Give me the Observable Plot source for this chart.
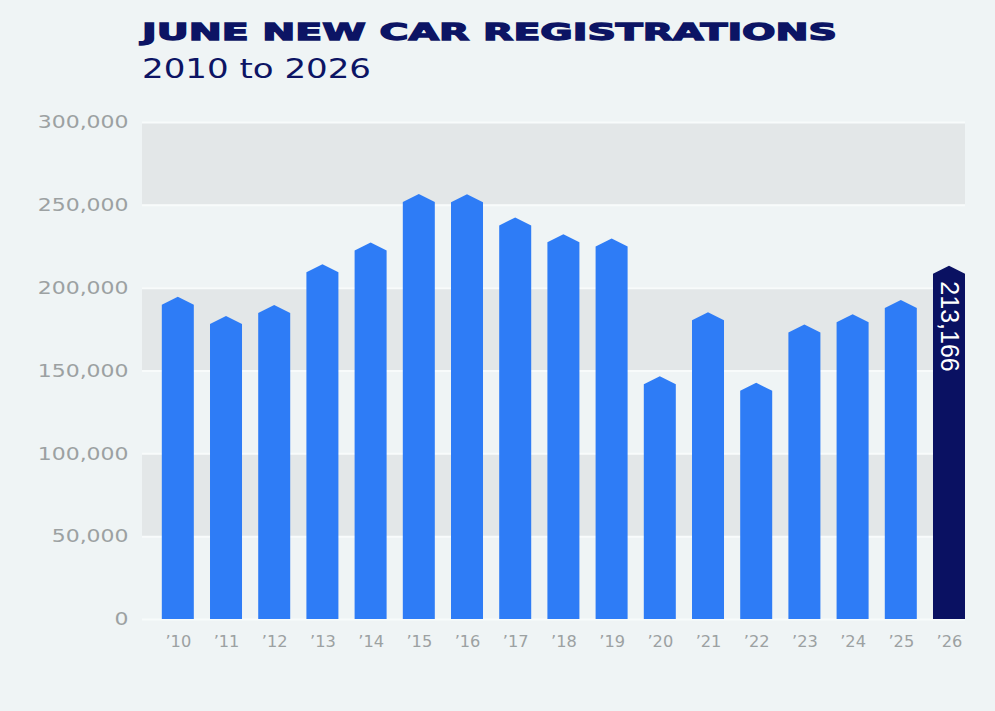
<!DOCTYPE html>
<html><head><meta charset="utf-8">
<script src="https://cdn.jsdelivr.net/npm/d3@7"></script>
<script src="https://cdn.jsdelivr.net/npm/@observablehq/plot@0.6"></script>
<style>
html,body{margin:0;padding:0;background:#eff4f5;}
#wrap{position:relative;width:995px;height:711px;overflow:hidden;background:#eff4f5;}
.t{position:absolute;left:142px;white-space:nowrap;transform-origin:0 0;color:#0c1464;line-height:1;display:inline-block;}
#title{top:18px;font:700 23.5px "DejaVu Sans";-webkit-text-stroke:1.3px #0c1464;}
#sub{top:53px;font:400 27.4px "DejaVu Sans";}
#chart{position:absolute;left:0;top:100px;}
</style></head><body>
<div id="wrap">
  <div id="title" class="t">JUNE NEW CAR REGISTRATIONS</div>
  <div id="sub" class="t">2010 to 2026</div>
  <div id="chart"></div>
</div>
<script>
// ---- data ----
const years = ["\u201910","\u201911","\u201912","\u201913","\u201914","\u201915","\u201916","\u201917","\u201918","\u201919","\u201920","\u201921","\u201922","\u201923","\u201924","\u201925","\u201926"];
const registrations = [194500, 182900, 189500, 214200, 227300, 256500, 256400, 242400, 232300, 229700, 146600, 185100, 142600, 177800, 183900, 192500, 213166];
const yTicks = [0, 50000, 100000, 150000, 200000, 250000, 300000];
const bandLo = [50000, 150000, 250000];
const bandHi = [100000, 200000, 300000];
const latestYear = "\u201926";

// ---- styles ----
const BLUE = "#2e7cf6", NAVY = "#0a1162", GRAY_TXT = "#9ca1a2", BAND = "#e3e7e8";
const SHOULDER = 8;

const data = years.map((year, i) => ({year, value: registrations[i], kind: year === latestYear ? "latest" : "past"}));
const bands = bandLo.map((lo, i) => ({lo, hi: bandHi[i]}));

const chart = Plot.plot({
  width: 995,
  height: 611,
  marginTop: 22,
  marginBottom: 92,
  marginLeft: 142,
  marginRight: 30,
  style: {fontFamily: "DejaVu Sans", background: "transparent", overflow: "visible"},
  x: {type: "band", domain: years, paddingInner: 0.336, paddingOuter: 0.2055, align: 1, round: false},
  y: {domain: [0, 300000]},
  color: {domain: ["past", "latest"], range: [BLUE, NAVY]},
  marks: [
    Plot.rect(bands, {y1: "lo", y2: "hi", fill: BAND}),
    Plot.ruleY(yTicks, {stroke: "#f8fbfb", strokeWidth: 2}),
    Plot.axisY(yTicks, {tickSize: 0, tickPadding: 14, tickFormat: d3.format(","), fontSize: 18, fill: GRAY_TXT, label: null}),
    Plot.axisX({tickSize: 0, tickPadding: 17, fontSize: 15, fill: GRAY_TXT, label: null}),
    Plot.barY(data, {x: "year", y: "value", fill: "kind"}),
    Plot.text(data.filter(d => d.year === latestYear), {
      x: "year", y: "value", text: d => d3.format(",")(d.value),
      rotate: 90, textAnchor: "start", lineAnchor: "middle", dy: 15,
      fill: "white", fontSize: 25, fontFamily: "Liberation Sans"
    })
  ]
});
document.getElementById("chart").appendChild(chart);

// house-shaped bar tops
chart.querySelectorAll('g[aria-label="bar"] rect').forEach(r => {
  const x = +r.getAttribute("x") || 0, y = +r.getAttribute("y") || 0;
  const w = +r.getAttribute("width") || 0, h = +r.getAttribute("height") || 0;
  const p = document.createElementNS("http://www.w3.org/2000/svg", "path");
  for (const a of Array.from(r.attributes)) if (!["x","y","width","height"].includes(a.name)) p.setAttribute(a.name, a.value);
  const s = Math.min(SHOULDER, h);
  p.setAttribute("d", `M${x},${y+h}V${y+s}L${x+w/2},${y}L${x+w},${y+s}V${y+h}Z`);
  r.replaceWith(p);
});

// stretch the axis label glyphs (the reference uses an extended face)
function stretch(sel, f) {
  chart.querySelectorAll(sel).forEach(t => {
    const tr = t.getAttribute("transform") || "";
    let tx = 0, ty = 0;
    for (const a of ["x", "y"]) {
      const v = t.getAttribute(a);
      if (v != null && !/em$/.test(v) && !isNaN(+v)) {
        if (a === "x") tx = +v; else ty = +v;
        t.setAttribute(a, 0);
      }
    }
    t.setAttribute("transform", `${tr} translate(${tx},${ty}) scale(${f},1)`);
  });
}
stretch('g[aria-label="y-axis tick label"] text', 1.22);
stretch('g[aria-label="x-axis tick label"] text', 1.08);

// fit title and subtitle widths
function fit(id, target) {
  const el = document.getElementById(id);
  const w = el.getBoundingClientRect().width;
  el.style.transform = `scaleX(${target / w})`;
}
fit("title", 695);
fit("sub", 229);
</script>
</body></html>
